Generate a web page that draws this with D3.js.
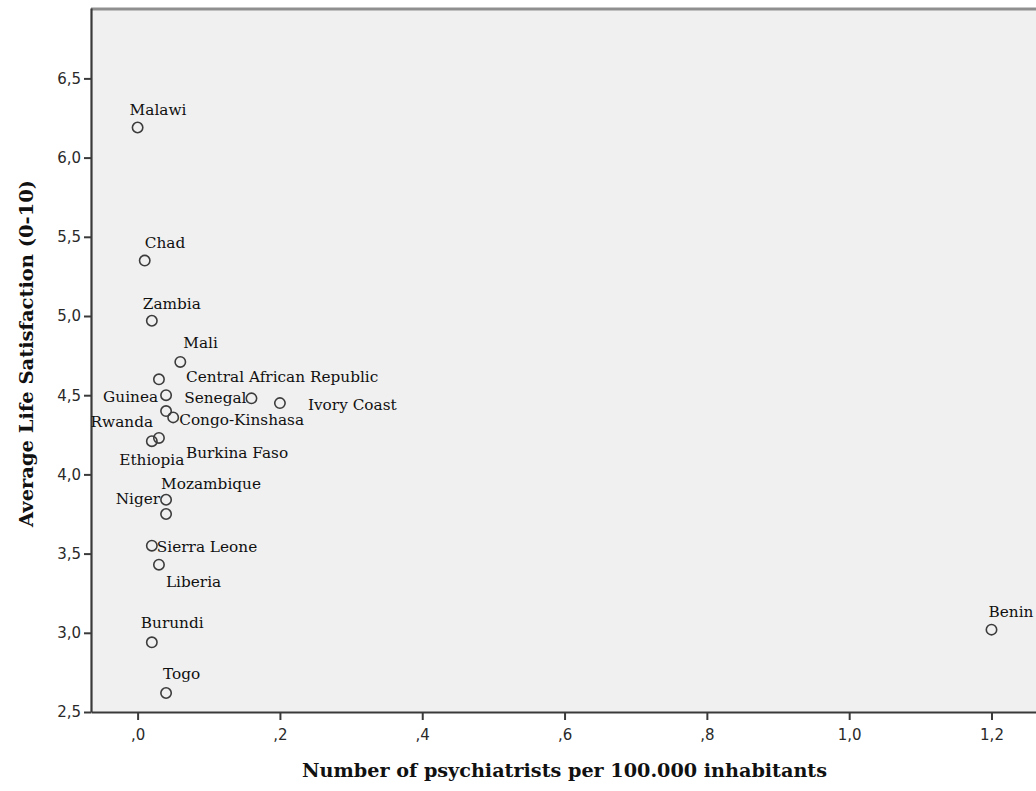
<!DOCTYPE html>
<html>
<head>
<meta charset="utf-8">
<script src="https://cdn.jsdelivr.net/npm/d3@7/dist/d3.min.js"></script>
<style>
  html, body { margin: 0; padding: 0; background: #ffffff; }
  svg { display: block; }
</style>
</head>
<body>
<svg id="chart" width="1036" height="791"></svg>
<script>
// ---- Data ----
const countries = ["Malawi","Chad","Zambia","Mali","Central African Republic","Guinea","Senegal","Ivory Coast","Rwanda","Congo-Kinshasa","Ethiopia","Burkina Faso","Mozambique","Niger","Sierra Leone","Liberia","Burundi","Togo","Benin"];
const psychiatrists = [0.00,0.01,0.02,0.06,0.03,0.04,0.16,0.20,0.04,0.05,0.02,0.03,0.04,0.04,0.02,0.03,0.02,0.04,1.20];
const lifeSatisfaction = [6.19,5.35,4.97,4.71,4.60,4.50,4.48,4.45,4.40,4.36,4.21,4.23,3.84,3.75,3.55,3.43,2.94,2.62,3.02];

const xTickValues = [0,0.2,0.4,0.6,0.8,1.0,1.2];
const xTickLabels = [",0",",2",",4",",6",",8","1,0","1,2"];
const yTickValues = [2.5,3.0,3.5,4.0,4.5,5.0,5.5,6.0,6.5];
const yTickLabels = ["2,5","3,0","3,5","4,0","4,5","5,0","5,5","6,0","6,5"];

const xTitle = "Number of psychiatrists per 100.000 inhabitants";
const yTitle = "Average Life Satisfaction (0-10)";

// label placement (anchor, dx, dy) relative to each point
const labelPlacement = {
  "Malawi": ["start",-8,-13],
  "Chad": ["start",0,-13],
  "Zambia": ["start",-9,-12],
  "Mali": ["start",3,-14],
  "Central African Republic": ["start",27,3],
  "Guinea": ["end",-8,7],
  "Senegal": ["end",-5,5],
  "Ivory Coast": ["start",28,7],
  "Rwanda": ["end",-13,16],
  "Congo-Kinshasa": ["start",6,8],
  "Ethiopia": ["middle",0,24],
  "Burkina Faso": ["start",27,20],
  "Mozambique": ["start",-5,-11],
  "Niger": ["end",-6,-10],
  "Sierra Leone": ["start",5,6],
  "Liberia": ["start",7,22],
  "Burundi": ["start",-11,-14],
  "Togo": ["start",-3,-14],
  "Benin": ["start",-3,-13]
};

// ---- Layout ----
const svg = d3.select("#chart");
const mLeft = 91, mTop = 8, mBottom = 712, mRight = 1084;

const x = d3.scaleLinear().domain([-0.0655, 1.33]).range([mLeft, mRight]);
const y = d3.scaleLinear().domain([2.5, 2.5 + (mBottom - mTop) / 158.4]).range([mBottom, mTop]);

// plot background
svg.append("rect")
  .attr("x", mLeft).attr("y", mTop)
  .attr("width", mRight - mLeft + 20).attr("height", mBottom - mTop)
  .attr("fill", "#f0f0f0");

// top frame line
svg.append("line")
  .attr("x1", mLeft).attr("x2", mRight + 20)
  .attr("y1", mTop + 1).attr("y2", mTop + 1)
  .attr("stroke", "#8f8f8f").attr("stroke-width", 3);

// axes
const xAxis = d3.axisBottom(x)
  .tickValues(xTickValues)
  .tickFormat((d, i) => xTickLabels[i])
  .tickSizeOuter(0).tickSizeInner(8).tickPadding(6);
const yAxis = d3.axisLeft(y)
  .tickValues(yTickValues)
  .tickFormat((d, i) => yTickLabels[i])
  .tickSizeOuter(0).tickSizeInner(7).tickPadding(3);

const gx = svg.append("g").attr("transform", `translate(0,${mBottom})`).call(xAxis);
const gy = svg.append("g").attr("transform", `translate(${mLeft},0)`).call(yAxis);

[gx, gy].forEach(g => {
  g.select(".domain").attr("stroke", "#3a3a3a").attr("stroke-width", 2.2);
  g.selectAll(".tick line").attr("stroke", "#3a3a3a").attr("stroke-width", 2);
  g.selectAll(".tick text")
    .attr("fill", "#2a2a2a")
    .style("font-family", "'DejaVu Sans', sans-serif")
    .style("font-size", "15px");
});
gx.selectAll(".tick text").attr("dy", "0.9em");

// points
const pts = countries.map((c, i) => ({ name: c, px: psychiatrists[i], ls: lifeSatisfaction[i] }));

svg.append("g").selectAll("circle")
  .data(pts).join("circle")
  .attr("cx", d => x(d.px))
  .attr("cy", d => y(d.ls))
  .attr("r", 5.2)
  .attr("fill", "none")
  .attr("stroke", "#3c3c3c")
  .attr("stroke-width", 1.6);

svg.append("g").selectAll("text")
  .data(pts).join("text")
  .attr("x", d => x(d.px) + labelPlacement[d.name][1])
  .attr("y", d => y(d.ls) + labelPlacement[d.name][2])
  .attr("text-anchor", d => labelPlacement[d.name][0])
  .style("font-family", "'DejaVu Serif', serif")
  .style("font-size", "15.3px")
  .attr("fill", "#111")
  .text(d => d.name);

// axis titles
svg.append("text")
  .attr("x", 564.5).attr("y", 777)
  .attr("text-anchor", "middle")
  .attr("textLength", 525).attr("lengthAdjust", "spacingAndGlyphs")
  .style("font-family", "'DejaVu Serif', serif")
  .style("font-weight", "bold")
  .style("font-size", "19px")
  .attr("fill", "#111")
  .text(xTitle);

svg.append("text")
  .attr("transform", "translate(33,353.5) rotate(-90)")
  .attr("text-anchor", "middle")
  .attr("textLength", 347).attr("lengthAdjust", "spacingAndGlyphs")
  .style("font-family", "'DejaVu Serif', serif")
  .style("font-weight", "bold")
  .style("font-size", "19px")
  .attr("fill", "#111")
  .text(yTitle);
</script>
</body>
</html>
